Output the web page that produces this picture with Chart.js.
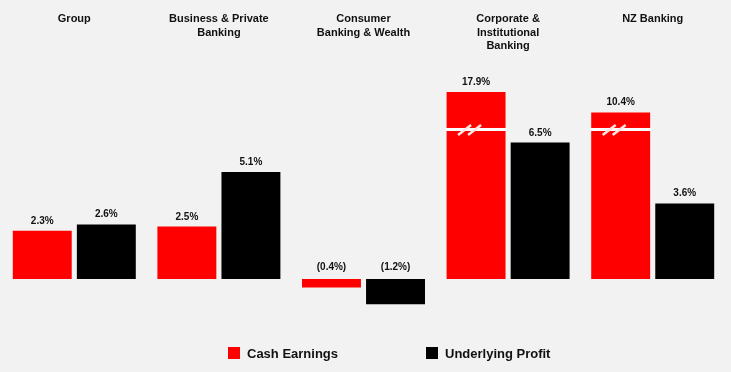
<!DOCTYPE html>
<html>
<head>
<meta charset="utf-8">
<script src="https://cdn.jsdelivr.net/npm/chart.js@4/dist/chart.umd.min.js"></script>
<style>
  html, body { margin: 0; padding: 0; background: #f2f2f2; }
  #wrap { width: 731px; height: 372px; position: relative; }
</style>
</head>
<body>
<div id="wrap"><canvas id="c" width="731" height="372"></canvas></div>
<script>
// ---- Data ----
const categories = [
  ["Group"],
  ["Business & Private", "Banking"],
  ["Consumer", "Banking & Wealth"],
  ["Corporate &", "Institutional", "Banking"],
  ["NZ Banking"]
];
const cashEarnings = [2.3, 2.5, -0.4, 17.9, 10.4];
const underlyingProfit = [2.6, 5.1, -1.2, 6.5, 3.6];
// Bars drawn with an axis break: the height shown above the break (in % units)
const axisBreak = 7.12;
const brokenShown = { 3: 8.9, 4: 7.93 };

const seriesNames = ["Cash Earnings", "Underlying Profit"];
const seriesColors = ["#ff0000", "#000000"];

const cashShown = cashEarnings.map((v, i) => (i in brokenShown ? brokenShown[i] : v));

function fmt(v) {
  return v < 0 ? "(" + Math.abs(v).toFixed(1) + "%)" : v.toFixed(1) + "%";
}

const FONT = '"Liberation Sans", Arial, Helvetica, sans-serif';

const overlay = {
  id: 'overlay',
  afterDatasetsDraw(chart) {
    const ctx = chart.ctx;
    const xs = chart.scales.x, ys = chart.scales.y;
    const zero = ys.getPixelForValue(0);
    const realSeries = [cashEarnings, underlyingProfit];

    // axis-break marks
    const meta0 = chart.getDatasetMeta(0);
    Object.keys(brokenShown).forEach(k => {
      const bar = meta0.data[+k];
      const y = ys.getPixelForValue(axisBreak);
      const l = bar.x - bar.width / 2, r = bar.x + bar.width / 2;
      ctx.save();
      ctx.fillStyle = '#ffffff';
      ctx.fillRect(l - 1, y - 1.5, r - l + 2, 3);
      ctx.strokeStyle = '#ffe4e4';
      ctx.lineWidth = 2.5;
      ctx.lineCap = 'butt';
      const cx = bar.x - 5;
      [-13, -3].forEach(dx => {
        ctx.beginPath();
        ctx.moveTo(cx + dx, y + 5.5);
        ctx.lineTo(cx + dx + 13, y - 4.5);
        ctx.stroke();
      });
      ctx.restore();
    });

    // value labels
    ctx.save();
    ctx.font = 'bold 10px ' + FONT;
    ctx.fillStyle = '#111';
    ctx.textAlign = 'center';
    ctx.textBaseline = 'alphabetic';
    realSeries.forEach((series, d) => {
      const meta = chart.getDatasetMeta(d);
      series.forEach((v, i) => {
        const bar = meta.data[i];
        const y = v >= 0 ? bar.y - 7 : zero - 9;
        ctx.fillText(fmt(v), bar.x, y);
      });
    });
    ctx.restore();

    // category labels at top
    ctx.save();
    ctx.font = 'bold 11px ' + FONT;
    ctx.fillStyle = '#111';
    ctx.textAlign = 'center';
    ctx.textBaseline = 'alphabetic';
    categories.forEach((lines, i) => {
      const x = xs.getPixelForValue(i);
      lines.forEach((t, j) => ctx.fillText(t, x, 22 + j * 13.5));
    });
    ctx.restore();

    // legend
    ctx.save();
    ctx.font = 'bold 13px ' + FONT;
    ctx.textBaseline = 'middle';
    ctx.textAlign = 'left';
    const legendX = [228, 426];
    const legendY = 353;
    seriesNames.forEach((name, i) => {
      ctx.fillStyle = seriesColors[i];
      ctx.fillRect(legendX[i], legendY - 6, 12, 12);
      ctx.fillStyle = '#111';
      ctx.fillText(name, legendX[i] + 19, legendY + 1);
    });
    ctx.restore();
  }
};

new Chart(document.getElementById('c'), {
  type: 'bar',
  data: {
    labels: categories.map(c => c.join(' ')),
    datasets: [
      { label: seriesNames[0], data: cashShown, backgroundColor: seriesColors[0], borderWidth: 0 },
      { label: seriesNames[1], data: underlyingProfit, backgroundColor: seriesColors[1], borderWidth: 0 }
    ]
  },
  options: {
    responsive: false,
    animation: false,
    maintainAspectRatio: false,
    datasets: { bar: { categoryPercentage: 0.886, barPercentage: 0.92 } },
    layout: { padding: { left: 2, right: 6, top: 58.5, bottom: 51 } },
    plugins: { legend: { display: false }, tooltip: { enabled: false } },
    scales: {
      x: { display: false },
      y: { display: false, min: -2, max: 10.5 }
    }
  },
  plugins: [overlay]
});
</script>
</body>
</html>
